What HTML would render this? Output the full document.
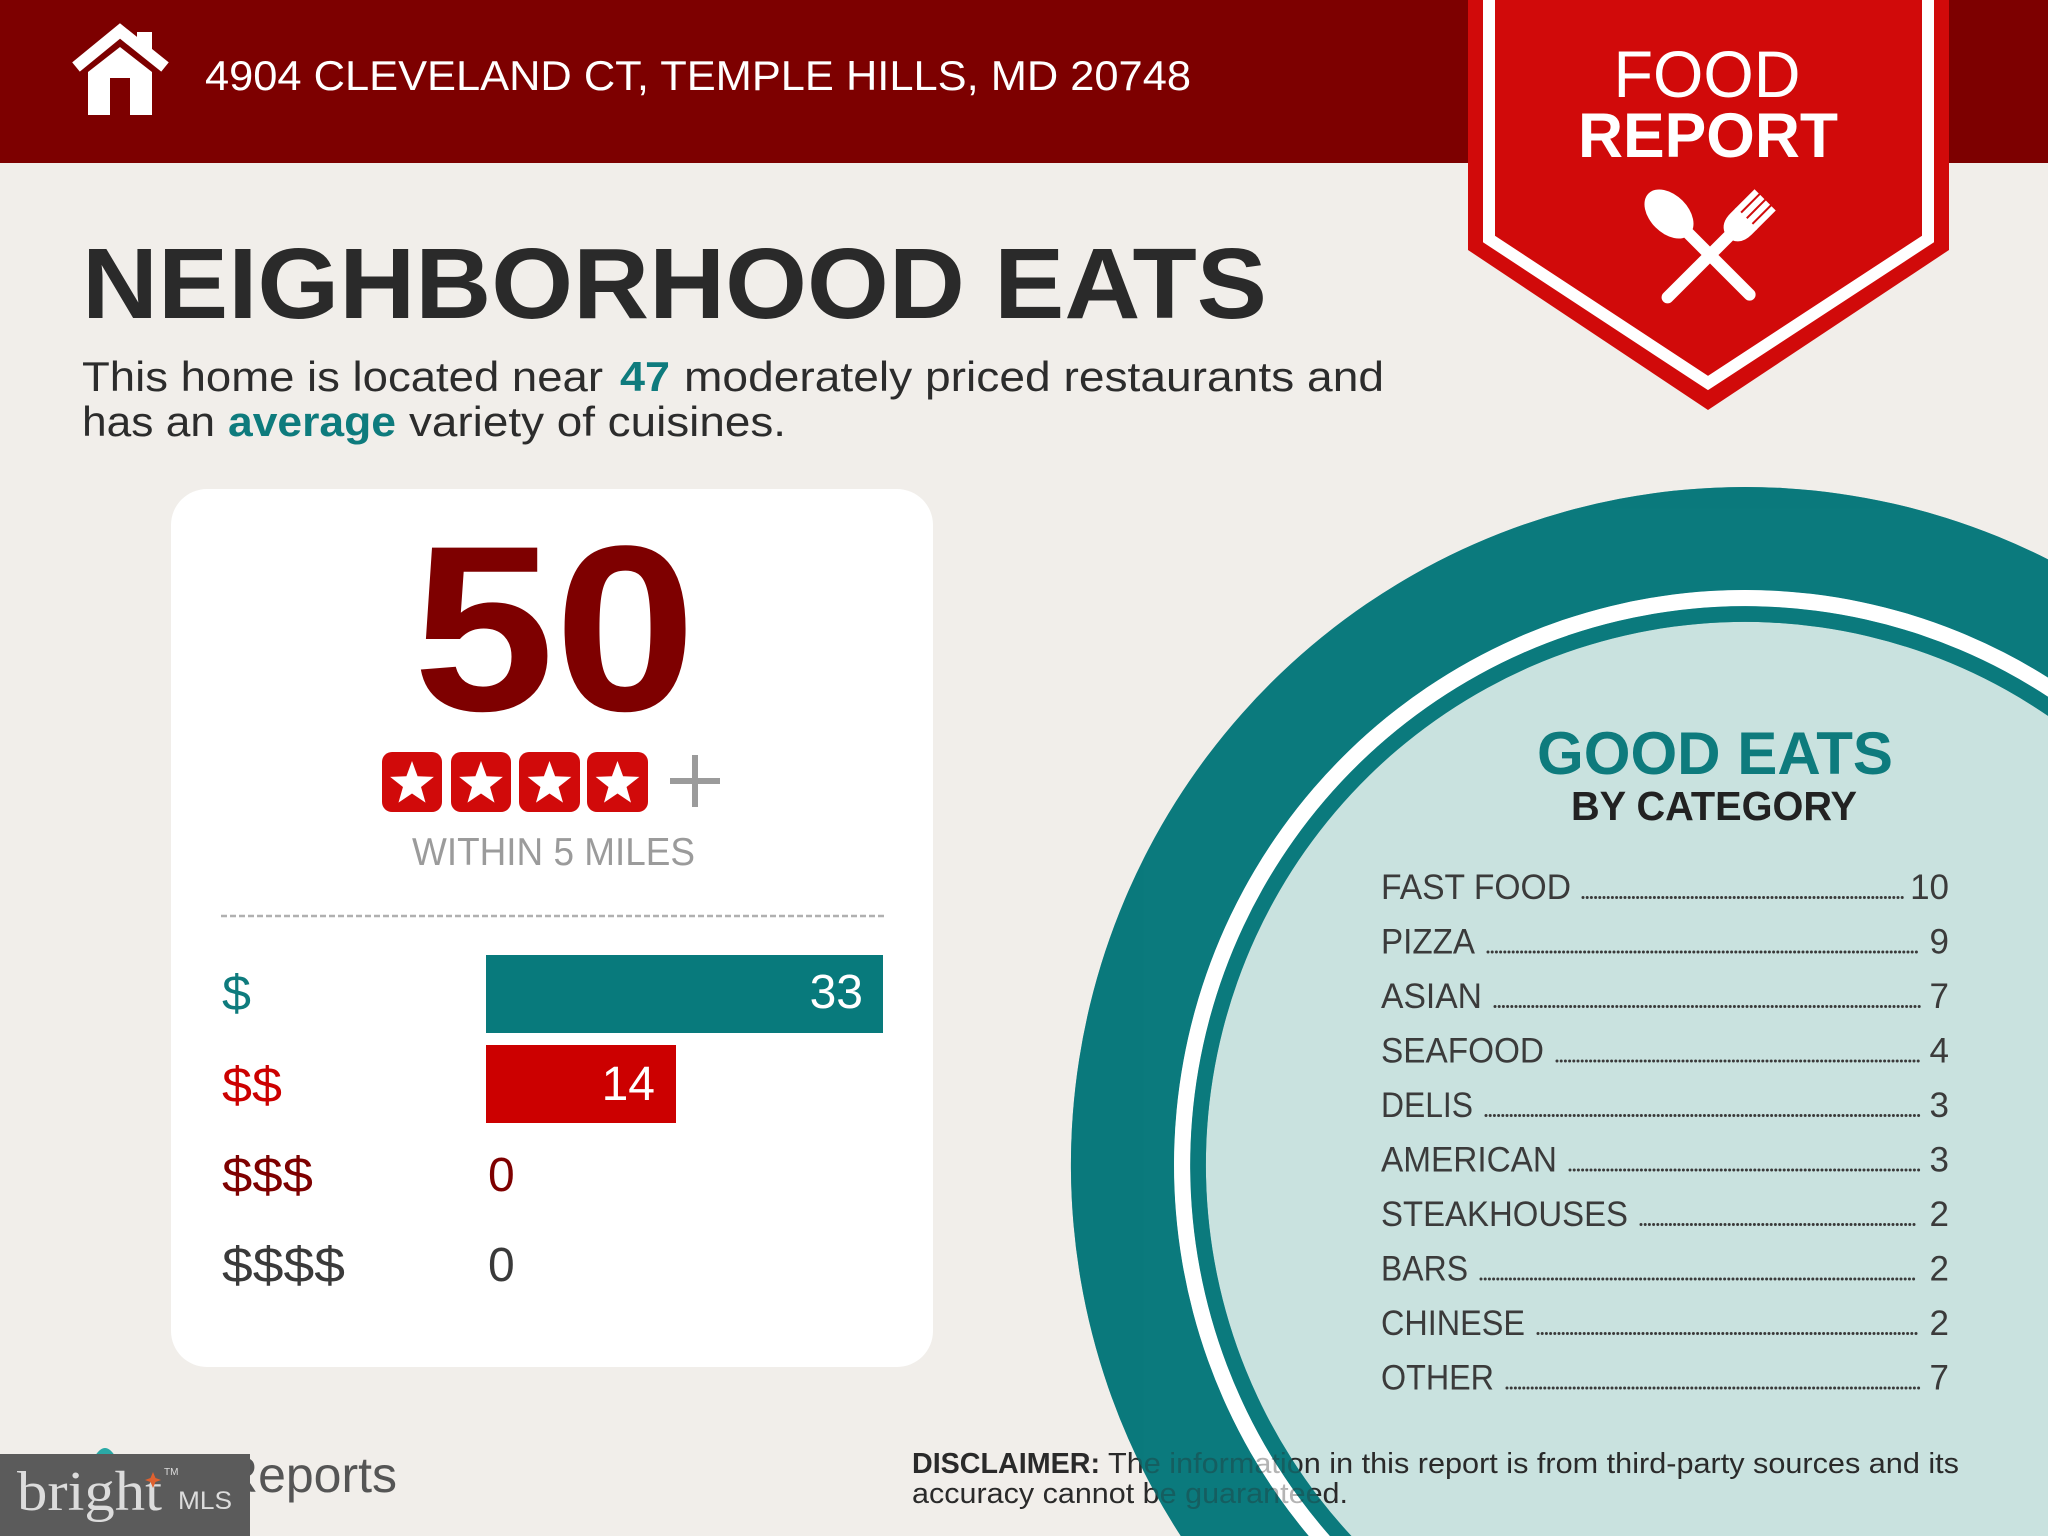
<!DOCTYPE html>
<html>
<head>
<meta charset="utf-8">
<style>
html,body{margin:0;padding:0;background:#f1eeea;width:2048px;height:1536px;overflow:hidden;}
svg{display:block;}
text{font-family:"Liberation Sans",Arial,sans-serif;}
</style>
</head>
<body>
<svg width="2048" height="1536" viewBox="0 0 2048 1536" xmlns="http://www.w3.org/2000/svg" overflow="hidden">
  <rect x="0" y="0" width="2048" height="1536" fill="#f1eeea"/>

  <!-- Header -->
  <rect x="0" y="0" width="2048" height="163" fill="#7d0000"/>
  <!-- House icon -->
  <polyline points="76,67 120,31 165,67" fill="none" stroke="#ffffff" stroke-width="12" stroke-linejoin="miter"/>
  <rect x="137" y="32" width="15" height="20" fill="#ffffff"/>
  <polygon points="88,72 120,47 152,72 152,115 88,115" fill="#ffffff"/>
  <rect x="110" y="78" width="20" height="37" fill="#7d0000"/>
  <text x="205" y="90" font-size="42" fill="#ffffff" textLength="986" lengthAdjust="spacingAndGlyphs">4904 CLEVELAND CT, TEMPLE HILLS, MD 20748</text>

  <!-- Food report banner -->
  <polygon points="1468,0 1468,250 1708,410 1949,250 1949,0" fill="#d10a0a"/>
  <polyline points="1489,0 1489,239 1708,383 1928,239 1928,0" fill="none" stroke="#ffffff" stroke-width="12" stroke-linejoin="miter"/>
  <text x="1707" y="97" font-size="66" fill="#ffffff" text-anchor="middle" textLength="187" lengthAdjust="spacingAndGlyphs">FOOD</text>
  <text x="1708" y="157" font-size="63" font-weight="bold" fill="#ffffff" text-anchor="middle" textLength="260" lengthAdjust="spacingAndGlyphs">REPORT</text>
  <!-- fork -->
  <g transform="translate(1710,255) rotate(45)" fill="#ffffff">
    <rect x="-6" y="-35" width="12" height="101" rx="6"/>
    <path d="M-15,-52 L15,-52 L15,-44 Q15,-30 5,-26 L-5,-26 Q-15,-30 -15,-44 Z"/>
    <rect x="-15" y="-78" width="6" height="28"/>
    <rect x="-7" y="-78" width="6" height="28"/>
    <rect x="1" y="-78" width="6" height="28"/>
    <rect x="9" y="-78" width="6" height="28"/>
  </g>
  <!-- spoon -->
  <g transform="translate(1710,255) rotate(-45)" fill="#ffffff">
    <ellipse cx="0" cy="-58" rx="19" ry="29"/>
    <rect x="-6" y="-36" width="12" height="98" rx="6"/>
  </g>

  <!-- Title -->
  <text x="82" y="318" font-size="100" font-weight="bold" fill="#2a2a2a" textLength="1185" lengthAdjust="spacingAndGlyphs">NEIGHBORHOOD EATS</text>
  <text x="82" y="391" font-size="42" fill="#2c2c2c" textLength="521" lengthAdjust="spacingAndGlyphs">This home is located near</text>
  <text x="620" y="391" font-size="42" font-weight="bold" fill="#0e7b7d" textLength="50" lengthAdjust="spacingAndGlyphs">47</text>
  <text x="684" y="391" font-size="42" fill="#2c2c2c" textLength="700" lengthAdjust="spacingAndGlyphs">moderately priced restaurants and</text>
  <text x="82" y="436" font-size="42" fill="#2c2c2c" textLength="133" lengthAdjust="spacingAndGlyphs">has an</text>
  <text x="228" y="436" font-size="42" font-weight="bold" fill="#0e7b7d" textLength="168" lengthAdjust="spacingAndGlyphs">average</text>
  <text x="409" y="436" font-size="42" fill="#2c2c2c" textLength="377" lengthAdjust="spacingAndGlyphs">variety of cuisines.</text>

  <!-- Card -->
  <rect x="171" y="489" width="762" height="878" rx="36" ry="36" fill="#ffffff"/>
  <text x="413" y="710" font-size="236" font-weight="bold" fill="#7e0000" textLength="283" lengthAdjust="spacingAndGlyphs">50</text>

  <!-- stars -->
  <g>
    <rect x="382" y="752" width="60" height="60" rx="10" fill="#d10a0a"/>
    <rect x="451" y="752" width="60" height="60" rx="10" fill="#d10a0a"/>
    <rect x="519" y="752" width="61" height="60" rx="10" fill="#d10a0a"/>
    <rect x="587" y="752" width="61" height="60" rx="10" fill="#d10a0a"/>
    <g fill="#ffffff">
      <polygon transform="translate(412,784)" points="0,-23 5.58,-7.69 21.87,-7.11 9.04,2.94 13.52,18.61 0,9.5 -13.52,18.61 -9.04,2.94 -21.87,-7.11 -5.58,-7.69"/>
      <polygon transform="translate(481,784)" points="0,-23 5.58,-7.69 21.87,-7.11 9.04,2.94 13.52,18.61 0,9.5 -13.52,18.61 -9.04,2.94 -21.87,-7.11 -5.58,-7.69"/>
      <polygon transform="translate(549.5,784)" points="0,-23 5.58,-7.69 21.87,-7.11 9.04,2.94 13.52,18.61 0,9.5 -13.52,18.61 -9.04,2.94 -21.87,-7.11 -5.58,-7.69"/>
      <polygon transform="translate(617.5,784)" points="0,-23 5.58,-7.69 21.87,-7.11 9.04,2.94 13.52,18.61 0,9.5 -13.52,18.61 -9.04,2.94 -21.87,-7.11 -5.58,-7.69"/>
    </g>
  </g>
  <line x1="670" y1="781" x2="720" y2="781" stroke="#9b9b9b" stroke-width="6"/>
  <line x1="695" y1="755" x2="695" y2="807" stroke="#9b9b9b" stroke-width="6"/>
  <text x="412" y="865" font-size="39" fill="#9b9b9b" textLength="283" lengthAdjust="spacingAndGlyphs">WITHIN 5 MILES</text>

  <line x1="221" y1="916" x2="884" y2="916" stroke="#b0b0b0" stroke-width="2.5" stroke-dasharray="6 3"/>

  <!-- price bars -->
  <rect x="486" y="955" width="397" height="78" fill="#087a7c"/>
  <rect x="486" y="1045" width="190" height="78" fill="#cc0000"/>
  <text x="222" y="1010" font-size="50" fill="#0e7b7d" textLength="29" lengthAdjust="spacingAndGlyphs">$</text>
  <text x="222" y="1102" font-size="50" fill="#cc0000" textLength="60" lengthAdjust="spacingAndGlyphs">$$</text>
  <text x="222" y="1192" font-size="50" fill="#7e0000" textLength="91" lengthAdjust="spacingAndGlyphs">$$$</text>
  <text x="222" y="1282" font-size="50" fill="#3a3a3a" textLength="123" lengthAdjust="spacingAndGlyphs">$$$$</text>
  <text x="863" y="1008" font-size="48" fill="#ffffff" text-anchor="end">33</text>
  <text x="655" y="1100" font-size="48" fill="#ffffff" text-anchor="end">14</text>
  <text x="488" y="1191" font-size="48" fill="#7e0000">0</text>
  <text x="488" y="1281" font-size="48" fill="#3a3a3a">0</text>

  <!-- Plate circle (clipped to frame geometrically) -->
  <path fill="#0b7a7d" d="M1180.8,1536 A674,678 0 0,1 2048,559.4 L2048,1536 Z"/>
  <path fill="#ffffff" d="M1308.8,1536 A571,575 0 0,1 2048,677.6 L2048,1536 Z"/>
  <path fill="#0b7a7d" d="M1329.9,1536 A555,559 0 0,1 2048,696.7 L2048,1536 Z"/>
  <path fill="#c9e2df" d="M1351.4,1536 A539,543 0 0,1 2048,715.9 L2048,1536 Z"/>

  <text x="1715" y="774" font-size="60" font-weight="bold" fill="#0e7b7d" text-anchor="middle" textLength="356" lengthAdjust="spacingAndGlyphs">GOOD EATS</text>
  <text x="1714" y="820" font-size="41" font-weight="bold" fill="#222222" text-anchor="middle" textLength="286" lengthAdjust="spacingAndGlyphs">BY CATEGORY</text>

  <g font-size="35" fill="#3b3b3b">
    <text x="1381" y="899" textLength="190" lengthAdjust="spacingAndGlyphs">FAST FOOD</text>
    <text x="1381" y="953.5" textLength="94" lengthAdjust="spacingAndGlyphs">PIZZA</text>
    <text x="1381" y="1008" textLength="101" lengthAdjust="spacingAndGlyphs">ASIAN</text>
    <text x="1381" y="1062.5" textLength="163" lengthAdjust="spacingAndGlyphs">SEAFOOD</text>
    <text x="1381" y="1117" textLength="92" lengthAdjust="spacingAndGlyphs">DELIS</text>
    <text x="1381" y="1171.5" textLength="176" lengthAdjust="spacingAndGlyphs">AMERICAN</text>
    <text x="1381" y="1226" textLength="247" lengthAdjust="spacingAndGlyphs">STEAKHOUSES</text>
    <text x="1381" y="1280.5" textLength="87" lengthAdjust="spacingAndGlyphs">BARS</text>
    <text x="1381" y="1335" textLength="144" lengthAdjust="spacingAndGlyphs">CHINESE</text>
    <text x="1381" y="1389.5" textLength="113" lengthAdjust="spacingAndGlyphs">OTHER</text>
  </g>
  <g font-size="35" fill="#3b3b3b" text-anchor="end">
    <text x="1949" y="899">10</text>
    <text x="1949" y="953.5">9</text>
    <text x="1949" y="1008">7</text>
    <text x="1949" y="1062.5">4</text>
    <text x="1949" y="1117">3</text>
    <text x="1949" y="1171.5">3</text>
    <text x="1949" y="1226">2</text>
    <text x="1949" y="1280.5">2</text>
    <text x="1949" y="1335">2</text>
    <text x="1949" y="1389.5">7</text>
  </g>
  <g stroke="#3a3a3a" stroke-width="3" stroke-linecap="round" stroke-dasharray="0 4.2" fill="none">
    <line x1="1583" y1="897.5" x2="1906" y2="897.5"/>
    <line x1="1488" y1="952" x2="1920" y2="952"/>
    <line x1="1495" y1="1006.5" x2="1922" y2="1006.5"/>
    <line x1="1557" y1="1061" x2="1920" y2="1061"/>
    <line x1="1486" y1="1115.5" x2="1920" y2="1115.5"/>
    <line x1="1570" y1="1170" x2="1920" y2="1170"/>
    <line x1="1641" y1="1224.5" x2="1917" y2="1224.5"/>
    <line x1="1481" y1="1279" x2="1917" y2="1279"/>
    <line x1="1538" y1="1333.5" x2="1917" y2="1333.5"/>
    <line x1="1507" y1="1388" x2="1922" y2="1388"/>
  </g>

  <!-- Disclaimer -->
  <text x="912" y="1473" font-size="29" font-weight="bold" fill="#2a2a2a" textLength="188" lengthAdjust="spacingAndGlyphs">DISCLAIMER:</text>
  <text x="1108" y="1473" font-size="29" fill="#2a2a2a" textLength="851" lengthAdjust="spacingAndGlyphs">The information in this report is from third-party sources and its</text>
  <text x="912" y="1503" font-size="29" fill="#2a2a2a" textLength="436" lengthAdjust="spacingAndGlyphs">accuracy cannot be guaranteed.</text>

  <!-- semi-transparent ring overlay over disclaimer text -->
  <g opacity="0.65">
    <path fill="#0b7a7d" d="M1180.8,1536 A674,678 0 0,1 2048,559.4 L2048,677.6 A571,575 0 0,0 1308.8,1536 Z"/>
    <path fill="#ffffff" d="M1308.8,1536 A571,575 0 0,1 2048,677.6 L2048,696.7 A555,559 0 0,0 1329.9,1536 Z"/>
    <path fill="#0b7a7d" d="M1329.9,1536 A555,559 0 0,1 2048,696.7 L2048,715.9 A539,543 0 0,0 1351.4,1536 Z"/>
  </g>

  <!-- Footer logo -->
  <path d="M95,1456 Q105,1440 115,1456 Z" fill="#2aa9a6"/>
  <text x="222" y="1492" font-size="50" fill="#555555" textLength="175" lengthAdjust="spacingAndGlyphs">Reports</text>
  <rect x="0" y="1454" width="250" height="82" fill="#5b5b5b"/>
  <text x="17" y="1510" font-size="56" fill="#dcdcdc" textLength="145" lengthAdjust="spacingAndGlyphs" style="font-family:'Liberation Serif',serif">bright</text>
  <polygon points="153,1472 155.5,1478 161,1480 155.5,1482 153,1488 150.5,1482 145,1480 150.5,1478" fill="#e0612f"/>
  <text x="164" y="1475" font-size="10" fill="#dcdcdc">TM</text>
  <text x="178" y="1509" font-size="25" fill="#dcdcdc" textLength="54" lengthAdjust="spacingAndGlyphs">MLS</text>
</svg>
</body>
</html>
